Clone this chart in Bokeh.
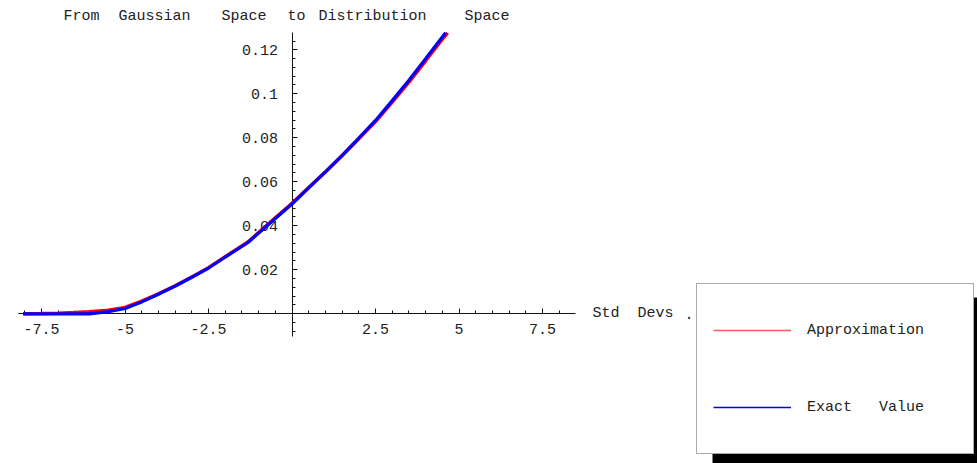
from bokeh.plotting import figure
from bokeh.models import (FixedTicker, Legend, LegendItem, Label, BoxAnnotation,
                          Range1d)
from bokeh.embed import file_html
from bokeh.resources import INLINE

# ---- data ----
x_exact = [-8.05, -7.5, -7.0, -6.5, -6.07, -5.5, -5.0, -4.5, -4.0, -3.5, -3.0, -2.5,
           -2.0, -1.32, -0.5, 0.0, 0.5, 1.0, 1.5, 2.0, 2.5, 3.0, 3.5, 4.0, 4.5, 4.6]
y_exact = [0.0, 0.0, 0.0, 0.0, 0.0, 0.0010, 0.0024, 0.0054, 0.0089, 0.0126, 0.0166,
           0.0208, 0.0258, 0.0324, 0.0433, 0.0499, 0.0572, 0.0645, 0.0720, 0.0799,
           0.0879, 0.0969, 0.1062, 0.1159, 0.1258, 0.1277]

x_approx = [-8.05, -7.5, -7.0, -6.5, -6.07, -5.5, -5.0, -4.5, -4.0, -3.5, -3.0, -2.5,
            -2.0, -1.32, -0.5, 0.0, 0.5, 1.0, 1.5, 2.0, 2.5, 3.0, 3.5, 4.0, 4.5, 4.66]
y_approx = [0.0, 0.0001, 0.0003, 0.0006, 0.0009, 0.0016, 0.0029, 0.0058, 0.0091,
            0.0127, 0.0167, 0.0209, 0.0259, 0.0326, 0.0436, 0.0502, 0.0574, 0.0645,
            0.0718, 0.0796, 0.0874, 0.0962, 0.1053, 0.1150, 0.1248, 0.1277]

x_major = [-7.5, -5, -2.5, 2.5, 5, 7.5]
x_minor = [-8, -7, -6.5, -6, -5.5, -4.5, -4, -3.5, -3, -2, -1.5, -1, -0.5,
           0.5, 1, 1.5, 2, 3, 3.5, 4, 4.5, 5.5, 6, 6.5, 7, 8]
y_major = [0.02, 0.04, 0.06, 0.08, 0.1, 0.12]
y_minor = [-0.008, -0.004, 0.004, 0.008, 0.012, 0.016, 0.024, 0.028, 0.032, 0.036,
           0.044, 0.048, 0.052, 0.056, 0.064, 0.068, 0.072, 0.076, 0.084, 0.088,
           0.092, 0.096, 0.104, 0.108, 0.112, 0.116, 0.124]

title_words = ["From", "Gaussian", "Space", "to", "Distribution", "Space"]
axis_words = ["Std", "Devs", "."]
series_names = ["Approximation", "Exact   Value"]

FONT = "Liberation Mono"
W, H = 977, 463

p = figure(width=W, height=H, output_backend="svg", toolbar_location=None,
           x_range=Range1d(-8.728, 20.524), y_range=Range1d(-0.06805, 0.14241),
           min_border=0, min_border_left=0, min_border_right=0,
           min_border_top=0, min_border_bottom=0)
p.outline_line_color = None
p.xgrid.visible = False
p.ygrid.visible = False
p.background_fill_color = "white"
p.border_fill_color = "white"

for ax, maj, mnr, bnds in ((p.xaxis[0], x_major, x_minor, (-8.19, 8.49)),
                           (p.yaxis[0], y_major, y_minor, (-0.0105, 0.1277))):
    ax.fixed_location = 0
    ax.bounds = bnds
    ax.ticker = FixedTicker(ticks=maj, minor_ticks=mnr)
    ax.axis_line_color = "#111111"
    ax.axis_line_width = 1
    ax.major_tick_in = 5
    ax.major_tick_out = 0
    ax.minor_tick_in = 3
    ax.minor_tick_out = 0
    ax.major_tick_line_color = "#111111"
    ax.minor_tick_line_color = "#111111"
    ax.major_label_text_font = FONT
    ax.major_label_text_font_size = "15px"
    ax.major_label_text_color = "#222222"

p.xaxis[0].major_label_standoff = 10
p.yaxis[0].major_label_standoff = 14
p.xaxis[0].major_label_overrides = {v: ("%g" % v) for v in x_major}
p.yaxis[0].major_label_overrides = {v: ("%g" % v) for v in y_major}

r_approx = p.line(x_approx, y_approx, line_color="#ff0000", line_width=3.5)
r_exact = p.line(x_exact, y_exact, line_color="#0000ff", line_width=3.2)
r_approx.level = "overlay"
r_exact.level = "overlay"

# thin proxies for the legend keys (a single empty point each)
nan = float("nan")
k_approx = p.line([nan], [nan], line_color="#ff5a5a", line_width=1.5)
k_exact = p.line([nan], [nan], line_color="#0000ff", line_width=1.5)

# title words (screen units: y measured from the bottom)
title_x = [63, 118, 221, 287, 318, 464]
for wtxt, xx in zip(title_words, title_x):
    p.add_layout(Label(x=xx, y=H - 16, x_units="screen", y_units="screen",
                       text=wtxt, text_font=FONT, text_font_size="15px",
                       text_color="#222222", text_baseline="alphabetic"))

axis_x = [592, 637, 684]
for wtxt, xx in zip(axis_words, axis_x):
    p.add_layout(Label(x=xx, y=H - 313, x_units="screen", y_units="screen",
                       text=wtxt, text_font=FONT, text_font_size="15px",
                       text_color="#222222", text_baseline="middle"))

# legend shadow
p.add_layout(BoxAnnotation(left=712, right=W, top=H - 297, bottom=0,
                           left_units="screen", right_units="screen",
                           top_units="screen", bottom_units="screen",
                           fill_color="black", fill_alpha=1.0, line_color=None))

legend = Legend(items=[LegendItem(label=series_names[0], renderers=[k_approx]),
                       LegendItem(label=series_names[1], renderers=[k_exact])],
                location=(696, 9), margin=0, padding=16, spacing=17,
                glyph_width=78, glyph_height=60, label_standoff=16,
                label_width=150, label_text_font=FONT,
                label_text_font_size="15px", label_text_color="#222222",
                border_line_color="#555555", border_line_width=1,
                background_fill_color="white", background_fill_alpha=1.0)
p.add_layout(legend)

open("out.html", "w").write(file_html(p, INLINE))
